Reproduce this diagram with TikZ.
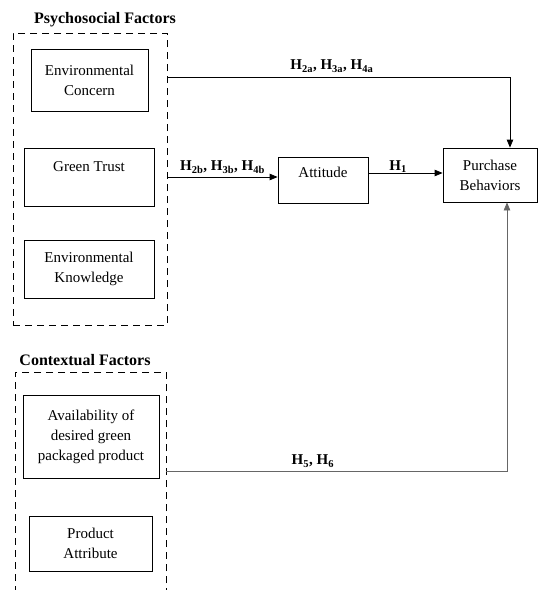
\documentclass[tikz,border=0pt]{standalone}
\usepackage{fontspec}
\setmainfont{Liberation Serif}
\usepackage{tikz}
\usetikzlibrary{positioning,arrows.meta}
\tikzstyle{diagram} = [x = 1pt, y = -1pt, every node/.style={font=\fontsize{15}{20}\selectfont}]
\tikzstyle{factorBox} = [draw, thick, align=center, inner sep=0pt, line width=.8pt]
\tikzstyle{groupFrame} = [draw, dashed, dash pattern=on 7pt off 5pt, line width=.8pt, inner sep=0pt]
\tikzstyle{groupTitle} = [font=\fontsize{16}{19}\selectfont\bfseries]
\tikzstyle{pathLine} = [line width=.8pt, -{Triangle[length=8pt,width=6.5pt]}]
\tikzstyle{pathText} = [font=\fontsize{15}{18}\selectfont\bfseries]
\newcommand{\hypo}[1]{H\textsubscript{#1}}
\newcommand{\factorNode}[6]{\node [factorBox, minimum width=#4, minimum height=#5] (#1) at (#2,#3) {#6};}

\begin{document}
\begin{tikzpicture}[diagram]
            \useasboundingbox (0,0) rectangle (538,590);
            \clip (0,0) rectangle (538,590);

            \node [groupTitle] (psychTitle) at (105,20) {Psychosocial Factors};
            \node [groupFrame, minimum width=154, minimum height=292] (psychFrame) at (90,179) {};
            \factorNode{concern}{89.5}{80}{117}{62}{Environmental\\Concern}
            \factorNode{trust}{89}{177}{130}{58}{Green Trust\\\mbox{}}
            \factorNode{knowledge}{89}{269}{130}{58}{Environmental\\Knowledge}

            \node [groupTitle] (contextTitle) at (85,360) {Contextual Factors};
            \node [groupFrame, minimum width=151, minimum height=240] (contextFrame) at (90.5,492) {};
            \factorNode{availability}{91}{436.5}{136}{83}{Availability of\\desired green\\packaged product}
            \factorNode{attribute}{90.5}{543.5}{123}{55}{Product\\Attribute}

            \factorNode{attitude}{323}{180}{90}{46}{Attitude\\[-4pt]\mbox{}}
            \factorNode{purchase}{490}{175}{94}{54}{Purchase\\Behaviors}

            \coordinate (concernOut) at (psychFrame.east |- 0,77);
            \coordinate (trustOut) at (psychFrame.east |- 0,177);
            \coordinate (availabilityOut) at (contextFrame.east |- 0,471);

            \draw [pathLine] (concernOut) -| ([xshift=20]purchase.north) node [pathText, pos=.24, above=1pt] {\hypo{2a}, \hypo{3a}, \hypo{4a}};
            \draw [pathLine] (trustOut) -- (attitude.west |- trustOut) node [pathText, midway, above=0pt] {\hypo{2b}, \hypo{3b}, \hypo{4b}};
            \draw [pathLine] ([yshift=7]attitude.east) -- ([yshift=2]purchase.west) node [pathText, pos=.4, above=-3pt] {\hypo{1}};
            \draw [pathLine, draw=black!60] (availabilityOut) -| ([xshift=17]purchase.south) node [pathText, pos=.215, above=0pt] {\hypo{5}, \hypo{6}};
          \end{tikzpicture}
\end{document}
